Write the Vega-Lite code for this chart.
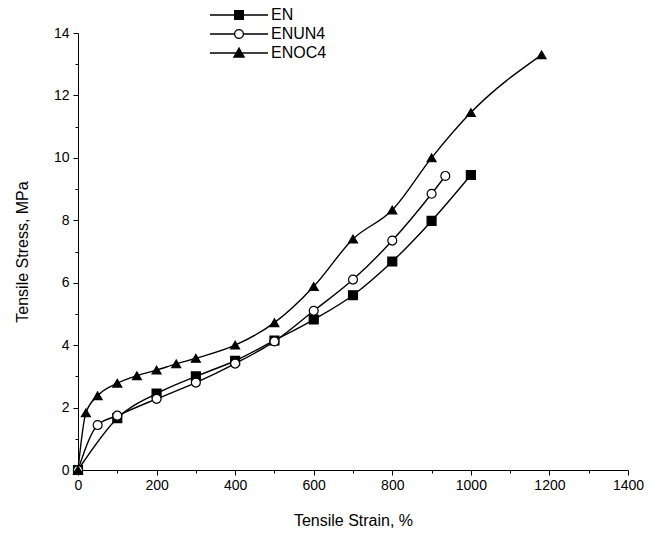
{
  "$schema": "https://vega.github.io/schema/vega-lite/v6.json",
  "width": 550,
  "height": 437,
  "autosize": "none",
  "padding": {"left": 78, "top": 33, "right": 23, "bottom": 68},
  "background": "white",
  "config": {
    "view": {"stroke": null},
    "font": "Liberation Sans",
    "axis": {
      "domainColor": "black",
      "tickColor": "black",
      "labelColor": "black",
      "titleColor": "black",
      "labelFont": "Liberation Sans",
      "titleFont": "Liberation Sans",
      "labelFontSize": 14,
      "titleFontSize": 16,
      "titleFontWeight": "normal",
      "labelFlush": false,
      "grid": false
    }
  },
  "data": {
    "values": [
      {"series": "EN", "strain": 0, "stress": 0},
      {"series": "EN", "strain": 100, "stress": 1.66},
      {"series": "EN", "strain": 200, "stress": 2.45},
      {"series": "EN", "strain": 300, "stress": 3.0},
      {"series": "EN", "strain": 400, "stress": 3.5},
      {"series": "EN", "strain": 500, "stress": 4.15},
      {"series": "EN", "strain": 600, "stress": 4.82},
      {"series": "EN", "strain": 700, "stress": 5.6},
      {"series": "EN", "strain": 800, "stress": 6.68},
      {"series": "EN", "strain": 900, "stress": 7.98},
      {"series": "EN", "strain": 1000, "stress": 9.45},
      {"series": "ENUN4", "strain": 0, "stress": 0},
      {"series": "ENUN4", "strain": 50, "stress": 1.44},
      {"series": "ENUN4", "strain": 100, "stress": 1.74},
      {"series": "ENUN4", "strain": 200, "stress": 2.28},
      {"series": "ENUN4", "strain": 300, "stress": 2.8},
      {"series": "ENUN4", "strain": 400, "stress": 3.41},
      {"series": "ENUN4", "strain": 500, "stress": 4.12},
      {"series": "ENUN4", "strain": 600, "stress": 5.1},
      {"series": "ENUN4", "strain": 700, "stress": 6.1},
      {"series": "ENUN4", "strain": 800, "stress": 7.35},
      {"series": "ENUN4", "strain": 900, "stress": 8.85},
      {"series": "ENUN4", "strain": 935, "stress": 9.42},
      {"series": "ENOC4", "strain": 0, "stress": 0},
      {"series": "ENOC4", "strain": 20, "stress": 1.83},
      {"series": "ENOC4", "strain": 50, "stress": 2.38},
      {"series": "ENOC4", "strain": 100, "stress": 2.78},
      {"series": "ENOC4", "strain": 150, "stress": 3.02},
      {"series": "ENOC4", "strain": 200, "stress": 3.2},
      {"series": "ENOC4", "strain": 250, "stress": 3.4},
      {"series": "ENOC4", "strain": 300, "stress": 3.58},
      {"series": "ENOC4", "strain": 400, "stress": 4.0},
      {"series": "ENOC4", "strain": 500, "stress": 4.72},
      {"series": "ENOC4", "strain": 600, "stress": 5.88},
      {"series": "ENOC4", "strain": 700, "stress": 7.4},
      {"series": "ENOC4", "strain": 800, "stress": 8.33},
      {"series": "ENOC4", "strain": 900, "stress": 10.0},
      {"series": "ENOC4", "strain": 1000, "stress": 11.45},
      {"series": "ENOC4", "strain": 1180, "stress": 13.3}
    ]
  },
  "encoding": {
    "x": {
      "field": "strain", "type": "quantitative",
      "scale": {"domain": [0, 1400], "nice": false, "zero": true},
      "axis": {
        "title": "Tensile Strain, %",
        "values": [0,100,200,300,400,500,600,700,800,900,1000,1100,1200,1300,1400],
        "labelExpr": "datum.value % 200 === 0 ? datum.label : ''",
        "format": "d",
        "tickSize": {"condition": {"test": "datum.value % 200 === 0", "value": 5}, "value": 3},
        "labelPadding": 3,
        "titlePadding": 20
      }
    },
    "y": {
      "field": "stress", "type": "quantitative",
      "scale": {"domain": [0, 14], "nice": false},
      "axis": {
        "title": "Tensile Stress, MPa",
        "values": [0,1,2,3,4,5,6,7,8,9,10,11,12,13,14],
        "labelExpr": "datum.value % 2 === 0 ? datum.label : ''",
        "tickSize": {"condition": {"test": "datum.value % 2 === 0", "value": 5}, "value": 3},
        "labelPadding": 4,
        "titlePadding": 23
      }
    }
  },
  "layer": [
    {
      "mark": {"type": "line", "interpolate": "monotone", "color": "black", "strokeWidth": 1.4},
      "encoding": {"detail": {"field": "series"}}
    },
    {
      "mark": {"type": "point", "filled": false, "stroke": "black", "strokeWidth": 1.2, "opacity": 1, "size": 80},
      "encoding": {
        "shape": {
          "field": "series", "type": "nominal",
          "scale": {"domain": ["EN", "ENUN4", "ENOC4"], "range": ["square", "circle", "triangle-up"]},
          "legend": null
        },
        "fill": {
          "field": "series", "type": "nominal",
          "scale": {"domain": ["EN", "ENUN4", "ENOC4"], "range": ["black", "white", "black"]},
          "legend": null
        }
      }
    },
    {
      "mark": {"type": "point", "filled": true, "color": "black", "size": 0},
      "encoding": {
        "shape": {
          "field": "series", "type": "nominal",
          "scale": {
            "domain": ["EN", "ENUN4", "ENOC4"],
            "range": [
              "M-5.8,-0.13H5.8V0.13H-5.8ZM-1,-1H1V1H-1Z",
              "M-5.8,-0.13H-0.95V0.13H-5.8ZM0.95,-0.13H5.8V0.13H0.95ZM1,0A1,1,0,1,1,-1,0A1,1,0,1,1,1,0ZM0.76,0A0.76,0.76,0,1,0,-0.76,0A0.76,0.76,0,1,0,0.76,0Z",
              "M-5.8,-0.13H5.8V0.13H-5.8ZM0,-1.25L1.25,0.95H-1.25Z"
            ]
          },
          "legend": {
            "title": null,
            "orient": "none",
            "legendX": 153,
            "legendY": -26,
            "symbolSize": 100,
            "symbolFillColor": "black",
            "symbolStrokeWidth": 0,
            "symbolOpacity": 1,
            "labelOffset": 24,
            "labelFontSize": 16,
            "labelFont": "Liberation Sans",
            "labelColor": "black",
            "rowPadding": 3,
            "padding": 0
          }
        }
      }
    }
  ],
  "resolve": {"scale": {"shape": "independent"}}
}
